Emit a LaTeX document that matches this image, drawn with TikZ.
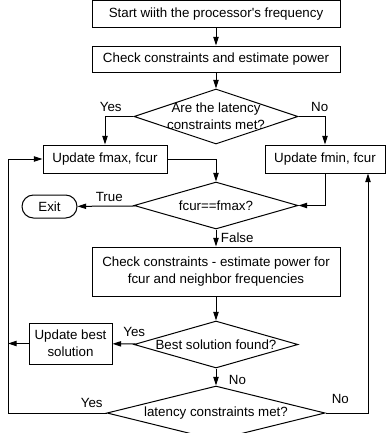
\documentclass[tikz,border=0pt]{standalone}
\usepackage{fontspec}
\setmainfont{Liberation Sans}
\usetikzlibrary{shapes.geometric,arrows.meta}

\begin{document}
\begin{tikzpicture}[x=0.75pt,y=-0.75pt,line width=0.75pt,
        font=\fontsize{10}{12.5}\selectfont,
        >={Triangle[length=6.5pt,width=4pt]},
        stepbox/.style={draw,rectangle,inner sep=0pt,align=center},
        test/.style={draw,diamond,aspect=3,inner sep=-10pt,align=center}]
        \useasboundingbox (0,0) rectangle (386,433);
        \node[stepbox,minimum width=186pt,minimum height=19.9pt] (start) at (216,13.75) {Start wiith the processor\textquotesingle s frequency};
        \node[stepbox,minimum width=186pt,minimum height=19.5pt] (check1) at (216,59) {Check constraints and estimate power};
        \node[test,minimum width=123pt,minimum height=41.25pt] (latency1) at (216,116.5) {Are the latency\\constraints met?};
        \node[stepbox,minimum width=93pt,minimum height=21pt] (upmax) at (105,159) {Update fmax, fcur};
        \node[stepbox,minimum width=90pt,minimum height=21pt] (upmin) at (325,159) {Update fmin, fcur};
        \node[test,minimum width=123pt,minimum height=35.25pt] (ismax) at (216,205.5) {fcur==fmax?};
        \node[draw,rounded corners=8.6pt,minimum width=41.25pt,minimum height=17.25pt,inner sep=0pt] (exit) at (49.5,206.5) {Exit};
        \node[stepbox,minimum width=186pt,minimum height=36.75pt] (check2) at (216,271.5) {Check constraints - estimate power for\\fcur and neighbor frequencies};
        \node[test,minimum width=123pt,minimum height=35.25pt] (best) at (216,344.5) {Best solution found?};
        \node[stepbox,minimum width=62.25pt,minimum height=30.75pt] (upbest) at (70.5,343.5) {Update best\\solution};
        \node[test,minimum width=163.5pt,minimum height=40.5pt] (latency2) at (216,413) {latency constraints met?};
        \coordinate (lft) at (8,159);
        \coordinate (rgt) at (368,413);

        \draw[->] (start) -- (check1);
        \draw[->] (check1) -- (latency1);
        \draw[->] (latency1) -| node[above,pos=0.4] {Yes} (upmax);
        \draw[->] (latency1) -| node[above,pos=0.4] {No} (upmin);
        \draw[->] (upmax) -| (ismax);
        \draw[->] (upmin) |- (ismax);
        \draw[->] (ismax) -- node[above,pos=0.45] {True} (exit);
        \draw[->] (ismax) -- node[right] {False} (check2);
        \draw[->] (check2) -- (best);
        \draw[->] (best) -- node[above=2pt,pos=0.05] {Yes} (upbest);
        \draw[->] (upbest) -- (upbest.west -| lft);
        \draw[->] (best) -- node[right=6pt,pos=0.7] {No} (latency2);
        \draw[->] (latency2) -- node[above,pos=0.15] {Yes} (latency2.west -| lft) -- (lft) -- (upmax);
        \draw[->] (latency2) -- node[above=3pt,pos=0.35] {No} (rgt) -- (rgt |- upmin.south);
\end{tikzpicture}
\end{document}
